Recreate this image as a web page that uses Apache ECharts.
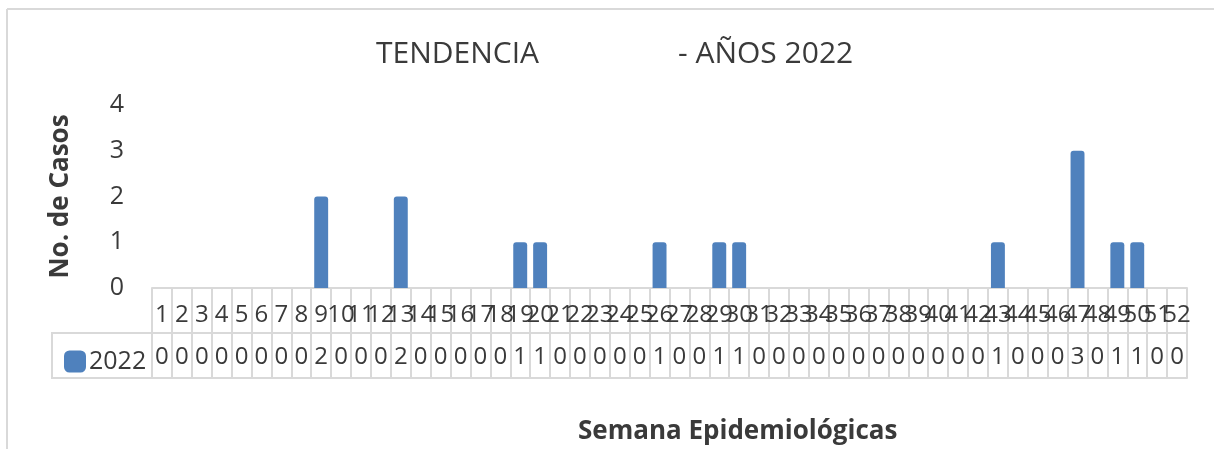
<!DOCTYPE html>
<html>
<head>
<meta charset="utf-8">
<script src="https://cdn.jsdelivr.net/npm/echarts@6/dist/echarts.min.js"></script>
<style>
html,body{margin:0;padding:0;background:#fff;}
#chart{width:1214px;height:449px;}
</style>
</head>
<body>
<div id="chart"></div>
<script>
const weeks = Array.from({length: 52}, (_, i) => String(i + 1));
const seriesName = '2022';
const values = [0,0,0,0,0,0,0,0,2,0,0,0,2,0,0,0,0,0,1,1,0,0,0,0,0,1,0,0,1,1,0,0,0,0,0,0,0,0,0,0,0,0,1,0,0,0,3,0,1,1,0,0];
const yTicks = [0, 1, 2, 3, 4];

const FONT = 'Open Sans';
const TXT = '#3a3a3a';
const GRID_LINE = '#d9d9d9';
const BAR = '#4F81BD';

const chart = echarts.init(document.getElementById('chart'));
chart.setOption({
  backgroundColor: '#fff',
  animation: false,
  title: [
    { text: 'TENDENCIA', left: 371, top: 34, textStyle: { fontFamily: FONT, fontSize: 30, fontWeight: 'normal', color: TXT } },
    { text: '- AÑOS 2022', left: 673, top: 34, textStyle: { fontFamily: FONT, fontSize: 30, fontWeight: 'normal', color: TXT } },
    { text: 'Semana Epidemiológicas', left: 573, top: 414, textStyle: { fontFamily: FONT, fontSize: 26, fontWeight: 'bold', color: TXT } }
  ],
  legend: {
    data: [seriesName],
    left: 59, top: 344,
    itemWidth: 22, itemHeight: 22, icon: 'roundRect',
    itemGap: 5,
    textStyle: { fontFamily: FONT, fontSize: 25, color: TXT, padding: [0, 0, 0, -2] }
  },
  grid: [
    { left: 152, right: 27, top: 105, height: 183 },
    { left: 152, right: 27, top: 333, height: 45 }
  ],
  xAxis: [
    {
      gridIndex: 0, type: 'category', data: weeks, position: 'bottom',
      axisLine: { show: true, lineStyle: { color: GRID_LINE, width: 2 } },
      axisTick: { show: true, length: 45, interval: 0, lineStyle: { color: GRID_LINE, width: 2 } },
      axisLabel: { interval: 0, margin: 15, fontFamily: FONT, fontSize: 24, color: TXT, lineHeight: 24 },
      splitLine: { show: false }
    },
    {
      gridIndex: 1, type: 'category', data: weeks, position: 'bottom',
      axisLine: { show: true, lineStyle: { color: GRID_LINE, width: 2 } },
      axisTick: { show: false },
      axisLabel: { interval: 0, inside: true, margin: 9, fontFamily: FONT, fontSize: 24, color: TXT, lineHeight: 24,
        formatter: (v, i) => String(values[i]) },
      splitLine: { show: true, interval: 0, lineStyle: { color: GRID_LINE, width: 2 } }
    },
    {
      gridIndex: 1, type: 'category', data: weeks, position: 'top',
      axisLine: { show: true, lineStyle: { color: GRID_LINE, width: 2 } },
      axisTick: { show: false }, axisLabel: { show: false }, splitLine: { show: false }
    }
  ],
  yAxis: [
    {
      gridIndex: 0, type: 'value', min: yTicks[0], max: yTicks[yTicks.length - 1], interval: 1,
      axisLine: { show: false }, axisTick: { show: false }, splitLine: { show: false },
      axisLabel: { margin: 28, fontFamily: FONT, fontSize: 25, color: TXT },
      name: 'No. de Casos', nameLocation: 'middle', nameRotate: 90, nameGap: 78,
      nameTextStyle: { fontFamily: FONT, fontSize: 26, fontWeight: 'bold', color: TXT }
    },
    { gridIndex: 1, type: 'value', show: false }
  ],
  graphic: [
    { type: 'line', shape: { x1: 7, y1: 9, x2: 1214, y2: 9 }, style: { stroke: GRID_LINE, lineWidth: 2 }, silent: true },
    { type: 'line', shape: { x1: 7, y1: 9, x2: 7, y2: 449 }, style: { stroke: GRID_LINE, lineWidth: 2 }, silent: true },
    { type: 'rect', shape: { x: 52, y: 333, width: 100, height: 45 }, style: { fill: 'none', stroke: GRID_LINE, lineWidth: 2 }, silent: true, z: -1 }
  ],
  series: [
    {
      name: seriesName, type: 'bar', xAxisIndex: 0, yAxisIndex: 0,
      data: values, barWidth: '70%',
      itemStyle: { color: BAR, borderRadius: [3, 3, 0, 0] }
    }
  ]
});
</script>
</body>
</html>
